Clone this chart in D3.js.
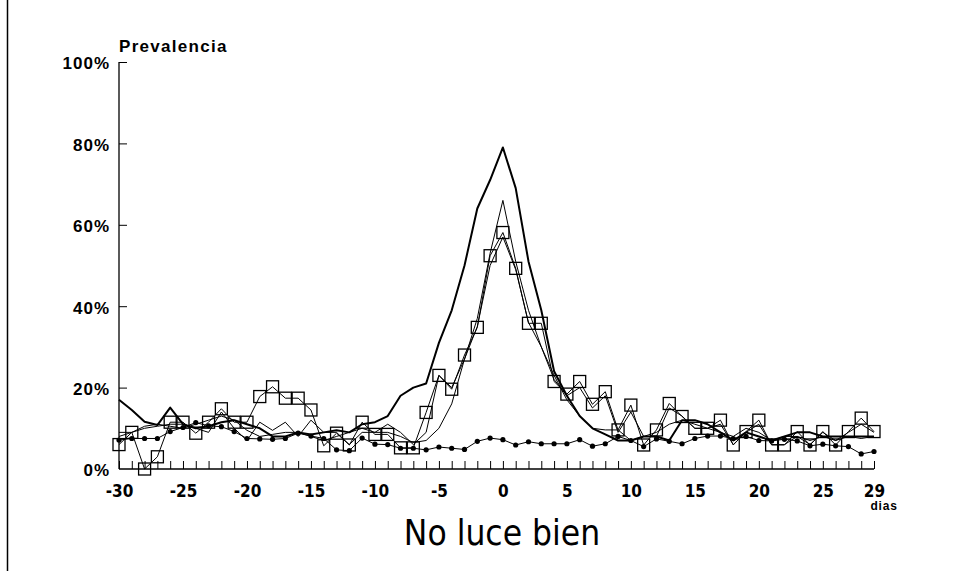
<!DOCTYPE html>
<html><head><meta charset="utf-8">
<script src="https://cdn.jsdelivr.net/npm/d3@7"></script>
<style>
html,body{margin:0;padding:0;background:#fff;}
svg{display:block;}
</style></head>
<body>
<svg id="chart" width="956" height="571"></svg>
<script>
const days = d3.range(-30, 30);
const xTickLabels = [-30,-25,-20,-15,-10,-5,0,5,10,15,20,25,29];
const yTickLabels = [0,20,40,60,80,100];

const thickLine = [17,14.5,11.6,10.8,15.1,11,10,10.5,11.5,12,11,10,8,8,9,8.5,9,9.5,9,11,11.5,13,18,20,21,31,39,50,64,71,79,69,51,39,24,18,13,10,8.5,7,7,8,8,7,12,12,11,9,7,9,8,7,8,9,9,8,8,8,8,8];
const thinLine = [9,9,10.5,11,10.5,10,11,12,13,12,9.5,8,8.5,9,9,8,7,8,9,10,9,9,8,6.5,7,10,16,27,37,53,66,51,39,30,23,17,13,10,9.6,9.6,7,8,9,11,12,11,10,9,8,10,9,7,8,8,7,8,7,8,7.5,8];
const spikyLine = [8,9,10,10.5,11,11,10,9,14,10,7,11.5,9.5,11.5,8,12,9,9,6,9,9,11,9,6,9,23,20,27,35,50,57,49,36,30,22,18,20,15,18,9,14,8,8,15,13,10,10,11,6,9,11,6,6,8,6,9,7,9,11,9];
const squareLine = [6,9,0,3,11.5,11.5,8.8,11.5,14.8,11.5,11.5,17.8,20.2,17.4,17.4,14.5,5.7,8.8,5.9,11.5,8.5,8.5,5.2,5.2,13.9,23,19.6,28,34.8,52.4,58.1,49.3,35.8,35.8,21.5,18.4,21.5,15.9,19,9.6,15.7,5.9,9.6,16.1,12.9,10,10,12,5.9,9.2,12,5.9,5.9,9.2,5.9,9.2,5.9,9.2,12.5,9.2];
const dotLine = [7.1,7.5,7.5,7.5,9.2,10.2,11.4,10.6,10.4,9.2,7.5,7.4,7.3,7.5,8.8,8.1,7.5,4.7,4.5,7.6,6.1,6,5.1,5.1,4.7,5.4,5.1,4.8,6.8,7.6,7.2,5.9,6.7,6.2,6.2,6.2,7.2,5.6,6.2,8,7,5.5,7.4,6.8,6.2,7.5,8.1,8.1,7.5,8,7,6.9,7.3,6.9,5.7,6.1,5.7,5.5,3.7,4.3];

const svg = d3.select("#chart");
const x = d3.scaleLinear().domain([-30, 29]).range([119, 874]);
const y = d3.scaleLinear().domain([0, 100]).range([469, 62]);

// left frame line
svg.append("line").attr("x1",7.5).attr("x2",7.5).attr("y1",0).attr("y2",571)
  .attr("stroke","#000").attr("stroke-width",1.5);

// y axis
const yAxis = svg.append("g").attr("transform","translate(119,0)")
  .call(d3.axisLeft(y).tickValues(yTickLabels).tickSize(0).tickFormat(d => d + "%"));
yAxis.select(".domain").attr("stroke","#000").attr("stroke-width",1.3).attr("d","M0," + y(0) + "V" + y(100));
yAxis.selectAll(".tick line").attr("stroke","#000").attr("stroke-width",1).attr("x1",0).attr("x2",8)
  .filter(d => d === 0).remove();
yAxis.selectAll(".tick text").attr("x",-9).attr("dy","0.4em")
  .style("font-family","'Liberation Sans', Arial, sans-serif").style("font-weight","bold")
  .style("font-size","17px").style("letter-spacing","1px").attr("fill","#000");

// x axis
const xAxis = svg.append("g").attr("transform","translate(0," + y(0) + ")")
  .call(d3.axisBottom(x).tickValues(days).tickSize(0).tickFormat(""));
xAxis.select(".domain").attr("stroke","#000").attr("stroke-width",1.3).attr("d","M" + x(-30) + ",0H" + x(29));
xAxis.selectAll(".tick line").attr("stroke","#000").attr("y1",0).attr("y2",-8);
const xl = svg.append("g").attr("transform","translate(0," + y(0) + ")")
  .call(d3.axisBottom(x).tickValues(xTickLabels).tickSize(0).tickPadding(0).tickFormat(d => String(d)));
xl.select(".domain").remove();
xl.selectAll(".tick text").attr("y",16).attr("dy","0.71em")
  .style("font-family","'Liberation Sans Narrow','DejaVu Sans Condensed', Arial, sans-serif")
  .style("font-weight","bold").style("font-size","17px").attr("fill","#000");

svg.append("text").attr("x", 884).attr("y", 510).attr("text-anchor","middle")
  .style("font-family","'Liberation Sans', Arial, sans-serif").style("font-weight","bold")
  .style("font-size","12px").style("letter-spacing","0.8px").text("dias");

svg.append("text").attr("x", 502).attr("y", 545).attr("text-anchor","middle")
  .style("font-family","'Liberation Sans Narrow','DejaVu Sans Condensed', Arial, sans-serif")
  .style("font-size","35px").text("No luce bien");

svg.append("text").attr("x", 119).attr("y", 52)
  .style("font-family","'Liberation Sans', Arial, sans-serif").style("font-weight","bold")
  .style("font-size","17px").style("letter-spacing","1.3px").text("Prevalencia");

const line = d3.line().x((d,i) => x(days[i])).y(d => y(d));
function drawLine(data, w){
  svg.append("path").datum(data).attr("d", line).attr("fill","none")
    .attr("stroke","#000").attr("stroke-width", w).attr("stroke-linejoin","round");
}
drawLine(thinLine, 1);
drawLine(spikyLine, 1);
drawLine(squareLine, 1);
drawLine(dotLine, 1);
drawLine(thickLine, 2);

svg.append("g").selectAll("rect").data(squareLine).join("rect")
  .attr("x",(d,i) => x(days[i]) - 6).attr("y", d => y(d) - 6)
  .attr("width",12).attr("height",12).attr("fill","none").attr("stroke","#000").attr("stroke-width",1.3);
svg.append("g").selectAll("circle").data(dotLine).join("circle")
  .attr("cx",(d,i) => x(days[i])).attr("cy", d => y(d)).attr("r",2.6).attr("fill","#000");
</script>
</body></html>
